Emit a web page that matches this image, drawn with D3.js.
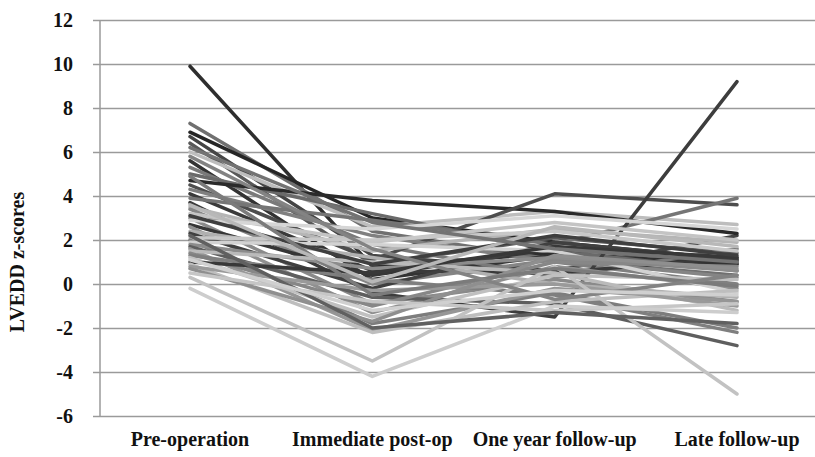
<!DOCTYPE html>
<html>
<head>
<meta charset="utf-8">
<script src="https://d3js.org/d3.v7.min.js"></script>
<style>
  body { margin: 0; background: #fff; }
  text { font-family: "Liberation Serif", "Times New Roman", serif; font-weight: bold; fill: #111; }
</style>
</head>
<body>
<svg id="chart" width="815" height="457"></svg>
<script>
// categories on the x axis
var stages = ["Pre-operation", "Immediate post-op", "One year follow-up", "Late follow-up"];
var yTicks = [-6, -4, -2, 0, 2, 4, 6, 8, 10, 12];

// z-score per patient at each stage
var preOp     = [9.9, 7.3, 6.9, 6.7, 6.4, 6.0, 5.6, 5.3, 5.0, 4.7, 4.5, 4.3, 4.1, 3.9, 3.7, 3.5, 3.4, 3.2, 3.0, 2.9, 2.7, 2.6, 2.4, 2.3, 2.1, 2.0, 1.9, 1.8, 1.7, 1.6, 1.5, 1.4, 1.3, 1.2, 1.0, 0.9, 0.8, 0.7, 0.5, 0.3, -0.2, 3.1, 4.9, 5.8, 2.2, 3.6, 1.1, 6.2];
var immediate = [0.8, 2.4, 3.0, 1.3, 0.9, 2.6, 0.2, 1.8, 3.2, 3.8, 1.1, 2.2, 0.6, 2.9, -0.4, 1.5, 0.0, 1.9, -0.9, 2.5, 0.4, -1.3, 1.2, -0.2, 2.0, -1.8, 1.8, 0.7, -0.6, -2.1, 1.0, -1.0, 0.2, -1.5, 0.5, -2.2, -0.3, -1.7, -0.8, -3.5, -4.2, 0.9, -0.5, 1.6, -2.0, 0.1, -1.2, 2.8];
var oneYear   = [1.4, 1.1, 1.9, 0.6, 2.1, 3.3, 1.3, 0.3, 1.5, 3.3, 4.1, 1.0, 0.5, 1.8, -1.5, 2.5, 1.1, 2.8, 0.2, 3.1, 1.6, 0.8, 0.0, 1.9, 2.4, -0.4, 1.5, 1.2, -0.9, -0.2, 0.5, 1.0, -0.5, 0.4, 1.7, -0.8, 0.0, 1.3, -1.2, 0.8, -1.0, 2.2, 0.7, -0.7, -1.3, 2.6, -0.3, 1.6];
var late      = [0.9, 0.4, 1.1, 2.2, 1.4, 2.7, 0.9, 1.6, 0.6, 2.3, 3.6, 0.0, 1.2, 3.9, 9.2, 1.9, 0.3, 2.0, -0.8, 2.5, 1.0, -0.2, -0.6, 1.1, 1.5, -2.0, -0.4, 0.6, -2.8, -0.8, -1.2, 0.8, -2.2, 0.2, 1.2, -0.3, -1.0, 0.7, -0.9, -5.0, -1.3, 1.3, -0.1, 0.4, -1.8, 1.7, -0.5, 1.0];

// grey shade of each line
var greys = ["#2e2e2e", "#707070", "#262626", "#454545", "#595959", "#bdbdbd", "#333333", "#7a7a7a",
             "#6a6a6a", "#2a2a2a", "#4d4d4d", "#808080", "#3a3a3a", "#757575", "#3d3d3d", "#b5b5b5",
             "#858585", "#c4c4c4", "#8a8a8a", "#d6d6d6", "#363636", "#909090", "#b0b0b0", "#404040",
             "#c8c8c8", "#7d7d7d", "#d2d2d2", "#8c8c8c", "#5e5e5e", "#969696", "#bababa", "#878787",
             "#7f7f7f", "#c0c0c0", "#383838", "#bebebe", "#9a9a9a", "#8f8f8f", "#c6c6c6", "#c2c2c2",
             "#cdcdcd", "#3f3f3f", "#7b7b7b", "#838383", "#606060", "#b8b8b8", "#d0d0d0", "#737373"];

var patients = preOp.map(function(v, i) {
  return [v, immediate[i], oneYear[i], late[i]];
});

var svg = d3.select("#chart");
var plotLeft = 100, plotRight = 815, plotTop = 20, plotBottom = 416;

var x = d3.scalePoint()
    .domain(stages)
    .range([190, 737]);

var y = d3.scaleLinear()
    .domain([-6, 12])
    .range([plotBottom, plotTop]);

// gridlines + ticks (plain hyphen for negatives, like the original)
svg.append("g")
    .attr("transform", "translate(" + plotLeft + ",0)")
    .call(d3.axisLeft(y).tickValues(yTicks).tickFormat(function(d) { return String(d); })
      .tickSize(-(plotRight - plotLeft)).tickSizeOuter(0).tickPadding(27))
    .call(function(g) {
      g.select(".domain").remove();
      g.selectAll(".tick line").attr("stroke", "#9a9a9a").attr("stroke-width", 1.5).attr("x1", -7);
      g.selectAll(".tick text").attr("dy", "0.34em")
        .style("font-family", "'Liberation Serif', serif").style("font-weight", "bold")
        .style("font-size", "20px").style("fill", "#111");
    });

// vertical axis line
svg.append("line")
    .attr("x1", plotLeft).attr("x2", plotLeft)
    .attr("y1", plotTop).attr("y2", plotBottom)
    .attr("stroke", "#9a9a9a")
    .attr("stroke-width", 1.5);

var line = d3.line()
    .x(function(d, i) { return x(stages[i]); })
    .y(function(d) { return y(d); });

svg.append("g")
  .selectAll("path")
  .data(patients)
  .enter().append("path")
    .attr("d", line)
    .attr("fill", "none")
    .attr("stroke", function(d, i) { return greys[i]; })
    .attr("stroke-width", 3.5)
    .attr("stroke-linejoin", "round")
    .attr("stroke-linecap", "round");

// category labels
svg.append("g")
  .selectAll("text")
  .data(stages)
  .enter().append("text")
    .attr("x", function(d) { return x(d); })
    .attr("y", 446)
    .attr("text-anchor", "middle")
    .attr("font-size", "20px")
    .text(function(d) { return d; });

// y axis title
svg.append("text")
    .attr("transform", "translate(24,262) rotate(-90)")
    .attr("text-anchor", "middle")
    .attr("font-size", "20px")
    .text("LVEDD z-scores");
</script>
</body>
</html>
